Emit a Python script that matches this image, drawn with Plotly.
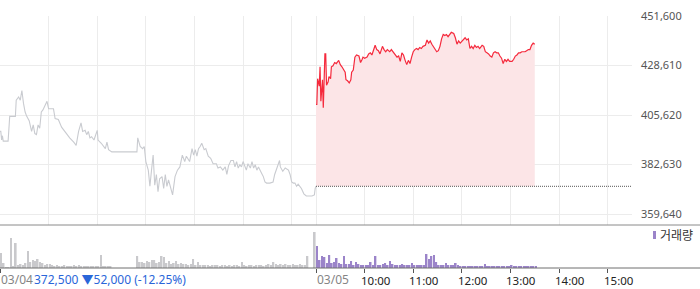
import plotly.graph_objects as go

# ---------------- data ----------------
# previous session (03/04): minutes after 09:00 and price
prev_minutes = [0, 1, 2, 3, 4, 10, 12, 19, 20, 23,
                25, 27, 29, 31, 33, 36, 39, 41, 43, 45,
                47, 49, 51, 53, 58, 60, 64, 66, 68, 72,
                76, 80, 82, 86, 91, 94, 97, 100, 102, 105,
                107, 109, 111, 113, 116, 120, 121, 125, 130, 132,
                134, 138, 169, 170, 173, 176, 178, 180, 183, 185,
                187, 189, 191, 193, 195, 197, 200, 202, 204, 206,
                208, 211, 213, 216, 219, 222, 225, 228, 230, 234,
                237, 239, 241, 243, 245, 247, 249, 252, 254, 257,
                260, 263, 267, 269, 272, 275, 278, 280, 282, 285,
                288, 290, 292, 294, 296, 298, 300, 304, 306, 309,
                311, 313, 315, 317, 319, 323, 325, 327, 329, 333,
                337, 339, 342, 345, 346, 349, 352, 356, 358, 360,
                362, 364, 366, 368, 370, 372, 375, 378, 385, 388,
                389, 390]
prev_prices = [398000, 398000, 394000, 396000, 393500, 393500, 405000, 405000, 412500, 414000,
               412500, 417000, 411000, 407000, 405000, 403000, 398000, 401000, 397000, 396500,
               401000, 399500, 407000, 408000, 412000, 408500, 408500, 408500, 404000, 403500,
               400000, 398000, 396500, 395000, 393000, 391500, 398000, 402000, 398000, 398500,
               396500, 398000, 395000, 395500, 394000, 398500, 394000, 392500, 390000, 393000,
               389500, 388500, 388500, 395000, 391000, 390000, 391000, 384000, 380000, 372500,
               380000, 387000, 373000, 378000, 370000, 376000, 377000, 371500, 378000, 372500,
               375500, 371500, 368500, 377000, 380000, 381500, 387000, 384000, 386500, 384000,
               390000, 387000, 389500, 386500, 390000, 391000, 392500, 389500, 390000, 386500,
               385500, 383000, 383000, 381000, 381500, 380000, 381500, 378000, 382000, 384500,
               384500, 381500, 384000, 381000, 382500, 381500, 384000, 380000, 383000, 381000,
               384000, 381000, 382500, 380000, 381500, 378500, 377000, 374500, 374000, 374000,
               374500, 378000, 381000, 384500, 381500, 379500, 381000, 380000, 378000, 374500,
               374000, 374000, 372500, 373500, 372500, 371500, 369000, 368000, 368000, 368500,
               371500, 372500]

# current session (03/05)
today_minutes = [0, 1, 2, 4, 5, 6, 8, 9, 11, 12,
                 13, 15, 16, 18, 19, 21, 23, 25, 28, 30,
                 32, 34, 36, 37, 39, 41, 43, 44, 46, 48,
                 50, 53, 55, 57, 58, 60, 63, 65, 67, 69,
                 71, 73, 75, 77, 79, 81, 82, 84, 86, 88,
                 91, 93, 96, 99, 100, 102, 104, 106, 108, 110,
                 112, 114, 116, 118, 120, 122, 124, 126, 128, 130,
                 132, 135, 137, 139, 141, 143, 145, 147, 149, 151,
                 153, 155, 157, 159, 161, 163, 165, 167, 170, 172,
                 174, 176, 178, 180, 182, 184, 186, 188, 190, 192,
                 194, 196, 198, 200, 202, 205, 207, 209, 211, 213,
                 215, 217, 219, 221, 223, 225, 227, 229, 231, 233,
                 235, 237, 239, 242, 244, 246, 248, 250, 252, 254,
                 256, 258, 260, 262, 264, 266, 268, 270]
today_prices = [410500, 410500, 422500, 419000, 428000, 412000, 422000, 409000, 434000, 434000,
                419500, 421000, 423500, 422500, 428000, 428500, 430000, 429500, 431000, 429000,
                428000, 427000, 425500, 422000, 421500, 420500, 422000, 425500, 426500, 432500,
                433500, 433000, 430000, 431500, 432500, 432000, 432500, 434000, 434500, 433500,
                436000, 438000, 436000, 435500, 434000, 436000, 437500, 436000, 435000, 436000,
                435000, 436000, 434500, 433500, 432500, 433000, 430500, 434500, 433500, 431000,
                429000, 431000, 429500, 432500, 435000, 436000, 436500, 436000, 437000, 436500,
                437500, 438000, 440500, 439000, 440000, 438500, 437500, 436000, 435000, 435500,
                437500, 441000, 443000, 442500, 443000, 442000, 443000, 444000, 443500, 441500,
                438500, 440000, 439000, 440000, 441000, 441500, 440500, 441000, 436500, 437500,
                436500, 438000, 437000, 437500, 436500, 438000, 437500, 435000, 434500, 434000,
                433000, 432500, 434500, 435000, 434500, 434500, 433000, 432000, 429500, 431500,
                430500, 431500, 430500, 430500, 431500, 433000, 433500, 434500, 434500, 435000,
                435000, 435000, 435500, 436000, 436000, 438000, 439000, 438500]

# volume per 3-minute bucket (thousand shares)
prev_volume_k = [15, 5, 1, 1, 30, 2, 25, 3, 4, 3,
                 5, 17, 6, 8, 7, 9, 6, 5, 3, 4,
                 4, 3, 2, 3, 2, 2, 3, 2, 2, 2,
                 3, 2, 3, 2, 2, 2, 2, 2, 2, 2,
                 2, 13, 2, 2, 2, 2, 0, 0, 0, 0,
                 0, 0, 0, 0, 0, 0, 12, 6, 6, 5,
                 7, 6, 8, 8, 5, 6, 12, 11, 5, 7,
                 4, 5, 7, 4, 5, 4, 4, 3, 4, 9,
                 3, 6, 3, 3, 3, 3, 2, 3, 3, 3,
                 2, 3, 3, 2, 3, 2, 3, 3, 2, 6,
                 3, 2, 3, 3, 2, 3, 3, 3, 2, 3,
                 4, 3, 6, 4, 3, 4, 3, 4, 3, 3,
                 4, 3, 3, 4, 3, 3, 12, 0, 0, 36]
today_volume_k = [22, 8, 12, 11, 5, 13, 5, 6, 10, 5,
                  4, 12, 4, 4, 7, 3, 6, 4, 3, 3,
                  3, 3, 6, 3, 12, 3, 3, 4, 5, 3,
                  7, 4, 3, 3, 3, 4, 3, 3, 3, 5,
                  3, 3, 3, 3, 3, 14, 9, 12, 13, 6,
                  3, 3, 3, 5, 3, 3, 3, 5, 3, 2,
                  2, 2, 2, 2, 2, 2, 2, 2, 2, 4,
                  2, 2, 2, 2, 2, 2, 2, 2, 2, 2,
                  3, 2, 2, 2, 2, 2, 2, 2, 2, 2, 2]

prev_close = 372500
change = -52000
change_pct = -12.25
price_ticks = [359640, 382630, 405620, 428610, 451600]
day_labels = ["03/04", "03/05"]
hour_offsets = [0, 60, 120, 180, 240, 300, 360]
time_labels = ["10:00", "11:00", "12:00", "13:00", "14:00", "15:00"]
legend_label = "거래량"

# ---------------- layout helpers ----------------
SESSION = 390
BUCKET = 3
PREV_OPEN, TODAY_OPEN = 0, SESSION
W, H = 700, 289
ML, MR, MT, MB = 0, 68, 16, 21
PW, PH = W - ML - MR, H - MT - MB
SPLIT = 43 / PH  # volume panel height fraction

FONT = "Noto Sans, Noto Sans CJK KR, sans-serif"

fig = go.Figure()

fig.add_bar(x=[PREV_OPEN + i * BUCKET + 1.5 for i in range(len(prev_volume_k))],
            y=prev_volume_k, width=2.0, marker=dict(color="#c9c9cc", line_width=0),
            xaxis="x", yaxis="y2", hoverinfo="skip")
fig.add_bar(x=[TODAY_OPEN + i * BUCKET + 1.5 for i in range(len(today_volume_k))],
            y=today_volume_k, width=2.0, marker=dict(color="#9b84c9", line_width=0),
            xaxis="x", yaxis="y2", hoverinfo="skip")

fig.add_scatter(x=[PREV_OPEN + m for m in prev_minutes], y=prev_prices, mode="lines",
                line=dict(color="#c9cbd0", width=1.1), xaxis="x2", yaxis="y", hoverinfo="skip")
today_x = [TODAY_OPEN + m for m in today_minutes]
fig.add_scatter(x=today_x, y=[prev_close] * len(today_x), mode="lines",
                line=dict(width=0, color="rgba(0,0,0,0)"), xaxis="x2", yaxis="y", hoverinfo="skip")
fig.add_scatter(x=today_x, y=today_prices, mode="lines", fill="tonexty",
                fillcolor="#fce5e7", line=dict(color="#f52a3d", width=1.2),
                xaxis="x2", yaxis="y", hoverinfo="skip")
fig.add_scatter(x=[TODAY_OPEN, TODAY_OPEN + SESSION], y=[prev_close, prev_close], mode="lines",
                line=dict(color="#555555", width=1, dash="1px,1px"),
                xaxis="x2", yaxis="y", hoverinfo="skip")

grid_vals = [PREV_OPEN + h for h in hour_offsets] + [TODAY_OPEN + h for h in hour_offsets]
bottom_ticks = [PREV_OPEN, TODAY_OPEN] + [TODAY_OPEN + h for h in hour_offsets[1:]]

annotations = []
label_y = -MB / PH  # bottom edge of the figure
common = dict(xref="x", yref="paper", y=label_y, showarrow=False, xanchor="left",
              yanchor="bottom", borderpad=0)
annotations.append(dict(common, x=PREV_OPEN, text=day_labels[0],
                        font=dict(size=12, color="#858585", family=FONT)))
arrow = "▼" if change < 0 else "▲"
annotations.append(dict(common, x=PREV_OPEN, xshift=33,
                        text=f"{prev_close:,} {arrow}{abs(change):,} ({change_pct:.2f}%)",
                        font=dict(size=12, color="#2a66d9", family=FONT)))
annotations.append(dict(common, x=TODAY_OPEN, text=day_labels[1],
                        font=dict(size=12, color="#858585", family=FONT)))
for h, lab in zip(hour_offsets[1:], time_labels):
    annotations.append(dict(common, x=TODAY_OPEN + h, text=lab, xshift=-5,
                            font=dict(size=11.5, color="#222222", family=FONT)))
annotations.append(dict(x=658 / PW, y=(268 - 235) / PH, xref="paper", yref="paper",
                        text=legend_label, showarrow=False, xanchor="left", yanchor="middle",
                        font=dict(size=12, color="#333333", family=FONT)))

shapes = [
    dict(type="line", xref="paper", yref="paper", x0=0, x1=W / PW, y0=SPLIT, y1=SPLIT,
         line=dict(color="#8a8a8a", width=1)),
    dict(type="line", xref="paper", yref="paper", x0=0, x1=W / PW, y0=0, y1=0,
         line=dict(color="#6e6e6e", width=1)),
    dict(type="rect", xref="paper", yref="paper", x0=653 / PW, x1=656 / PW,
         y0=(268 - 239) / PH, y1=(268 - 231) / PH, line_width=0, fillcolor="#9b84c9"),
]

fig.update_layout(
    width=W, height=H, margin=dict(l=ML, r=MR, t=MT, b=MB),
    paper_bgcolor="white", plot_bgcolor="white", showlegend=False,
    hovermode=False, barmode="overlay", font=dict(family=FONT),
    xaxis=dict(domain=[0, 1], anchor="y2", range=[0, 2 * SESSION], showgrid=False,
               zeroline=False, showline=False, ticks="outside", ticklen=4, tickwidth=1,
               tickcolor="#555555", tickvals=bottom_ticks, showticklabels=False),
    xaxis2=dict(domain=[0, 1], anchor="y", matches="x", range=[0, 2 * SESSION], showgrid=True,
                gridcolor="#ececec", gridwidth=1, tickvals=grid_vals, showticklabels=False,
                ticks="", zeroline=False, showline=False),
    yaxis=dict(domain=[SPLIT, 1], anchor="x2", side="right",
               range=[price_ticks[0] - (price_ticks[1] - price_ticks[0]) * 11 / 49.5, price_ticks[-1]],
               tickvals=price_ticks, ticktext=[f"{v:,}" for v in price_ticks],
               gridcolor="#ececec", gridwidth=1, ticks="", ticklabelstandoff=8,
               tickfont=dict(size=11, color="#555555", family=FONT),
               zeroline=False, showline=False),
    yaxis2=dict(domain=[0, SPLIT], anchor="x", range=[0, 43], showgrid=False,
                showticklabels=False, zeroline=False, showline=False, ticks=""),
    annotations=annotations, shapes=shapes,
)

fig.write_html("out.html")
